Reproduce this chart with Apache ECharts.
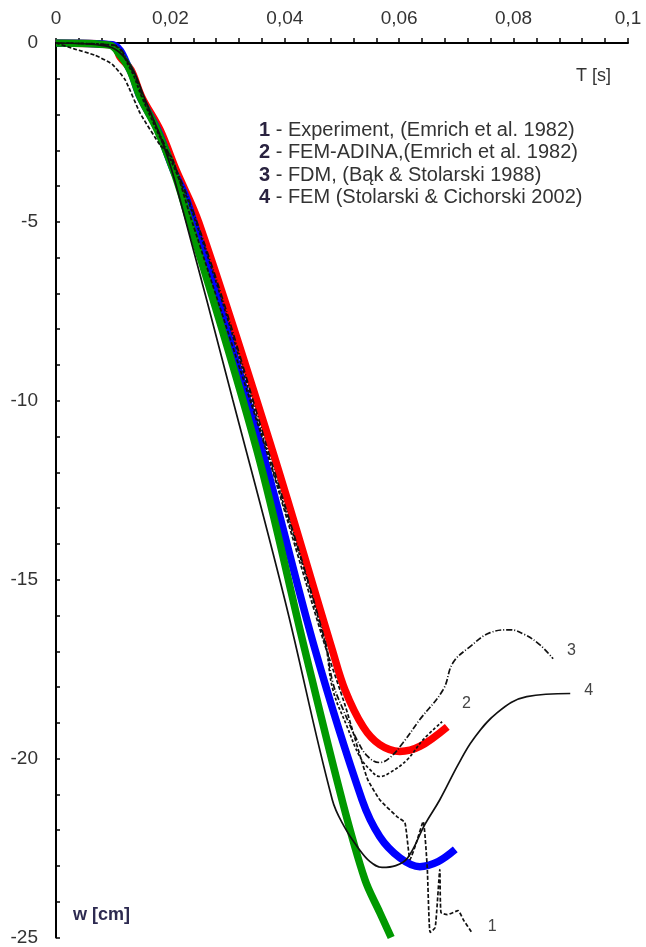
<!DOCTYPE html>
<html>
<head>
	<meta charset="utf-8">
	<title>w(T)</title>
	<script src="https://cdn.jsdelivr.net/npm/echarts@6/dist/echarts.min.js"></script>
	<style>
		body { margin: 0; background: #fff; }
		#box { width: 646px; height: 947px; }
	</style>
</head>
<body>
	<div id="box"></div>
	<script type="text/javascript">
		// [T (s), w (cm)]
		var redData = [[0, 0], [0.0100, -0.06], [0.0112, -0.39], [0.0131, -0.75], [0.0150, -1.51], [0.0182, -2.43],
			[0.0210, -3.55], [0.0250, -5.03], [0.0378, -11.37], [0.0483, -16.96], [0.0505, -18.07], [0.0537, -19.11],
			[0.0566, -19.61], [0.0601, -19.80], [0.0636, -19.66], [0.0684, -19.11]]
		var blueData = [[0, 0], [0.0098, -0.05], [0.0129, -0.75], [0.0147, -1.51], [0.0178, -2.43], [0.0205, -3.55],
			[0.0229, -4.39], [0.0360, -11.37], [0.0453, -16.96], [0.0535, -21.15], [0.0566, -22.18], [0.0601, -22.77],
			[0.0636, -23.02], [0.0668, -22.88], [0.0698, -22.54]]
		var greenData = [[0, 0], [0.0094, -0.06], [0.0112, -0.34], [0.0129, -0.75], [0.0147, -1.51], [0.0177, -2.43],
			[0.0205, -3.55], [0.0222, -4.39], [0.0351, -11.37], [0.0435, -16.96], [0.0500, -21.15], [0.0540, -23.38],
			[0.0566, -24.30], [0.0586, -25.0]]
		// 1 - experiment
		var curve1 = [[0, 0], [0.0033, -0.17], [0.0068, -0.34], [0.0098, -0.59], [0.0121, -1.03], [0.0147, -1.96],
			[0.0182, -2.85], [0.0203, -3.21], [0.0234, -4.80], [0.0371, -11.56], [0.0467, -16.68], [0.0505, -18.49],
			[0.0531, -19.89], [0.0545, -20.59], [0.0566, -21.15], [0.0596, -21.62], [0.0610, -21.79], [0.0619, -22.82],
			[0.0629, -22.40], [0.0642, -21.76], [0.0649, -23.04], [0.0654, -24.86], [0.0663, -24.72], [0.0671, -23.10],
			[0.0673, -24.30], [0.0684, -24.36], [0.0703, -24.25], [0.0712, -24.50], [0.0727, -24.86]]
		// 2 - FEM-ADINA
		var curve2 = [[0, 0], [0.0098, -0.06], [0.0129, -0.70], [0.0150, -1.51], [0.0243, -4.94], [0.0372, -11.56],
			[0.0469, -16.68], [0.0484, -18.07], [0.0509, -19.11], [0.0531, -19.94], [0.0549, -20.31], [0.0566, -20.50],
			[0.0584, -20.39], [0.0614, -20.03], [0.0642, -19.47], [0.0675, -18.97]]
		// 3 - FDM
		var curve3 = [[0, 0], [0.0100, -0.06], [0.0131, -0.70], [0.0152, -1.51], [0.0245, -4.94], [0.0374, -11.56],
			[0.0470, -16.68], [0.0484, -17.88], [0.0502, -18.63], [0.0526, -19.47], [0.0545, -19.94], [0.0566, -20.11],
			[0.0584, -19.97], [0.0607, -19.55], [0.0636, -18.91], [0.0677, -18.07], [0.0694, -17.32], [0.0724, -16.87],
			[0.0759, -16.48], [0.0794, -16.40], [0.0820, -16.54], [0.0846, -16.82], [0.0869, -17.21]]
		// 4 - FEM
		var curve4 = [[0, 0], [0.0086, -0.08], [0.0126, -0.53], [0.0156, -1.59], [0.0191, -2.99], [0.0217, -4.39],
			[0.0309, -9.97], [0.0400, -15.56], [0.0483, -21.15], [0.0505, -21.93], [0.0528, -22.49], [0.0549, -22.88],
			[0.0570, -23.04], [0.0594, -22.99], [0.0615, -22.77], [0.0645, -21.84], [0.0671, -21.15], [0.0703, -20.17],
			[0.0729, -19.47], [0.0771, -18.72], [0.0823, -18.27], [0.0899, -18.18]]

		var legendLines = [
			['1', ' - Experiment, (Emrich et al. 1982)'],
			['2', ' - FEM-ADINA,(Emrich et al. 1982)'],
			['3', ' - FDM, (Bąk & Stolarski 1988)'],
			['4', ' - FEM (Stolarski & Cichorski 2002)']
		]

		var font = 'Liberation Sans, Arial, sans-serif'
		var myChart = echarts.init(document.getElementById('box'))

		function thinLine(data, name, dash, endOffset, smooth) {
			return {
				type: 'line',
				name: name,
				data: data,
				z: 3,
				clip: true,
				smooth: smooth,
				symbol: 'none',
				lineStyle: { color: '#111', width: 1.7, type: dash },
				endLabel: {
					show: true,
					formatter: name,
					offset: endOffset,
					color: '#444',
					fontFamily: font,
					fontSize: 16
				}
			}
		}

		function thickLine(data, color) {
			return {
				type: 'line', data: data, symbol: 'none', clip: true, z: 2, smooth: 0.35,
				lineStyle: { color: color, width: 7.5 }
			}
		}

		var legendGraphic = legendLines.map(function (l, i) {
			return {
				type: 'text',
				left: 259,
				top: 120 + i * 22.5,
				style: {
					text: '{n|' + l[0] + '}{t|' + l[1] + '}',
					rich: {
						n: { fontFamily: font, fontSize: 20, fontWeight: 'bold', fill: '#2a2340' },
						t: { fontFamily: font, fontSize: 20, fill: '#333' }
					}
				}
			}
		})
		legendGraphic.push({
			type: 'text', left: 576, top: 67,
			style: { text: 'T [s]', fontFamily: font, fontSize: 18, fill: '#333' }
		})
		legendGraphic.push({
			type: 'text', left: 73, top: 906,
			style: { text: 'w [cm]', fontFamily: font, fontSize: 18, fontWeight: 'bold', fill: '#2d2a50' }
		})

		var option = {
			animation: false,
			backgroundColor: '#fff',
			grid: { left: 56, right: 18, top: 43, bottom: 9 },
			xAxis: {
				type: 'value',
				position: 'top',
				min: 0,
				max: 0.1,
				interval: 0.02,
				axisLine: { onZero: false, lineStyle: { color: '#000', width: 2 } },
				axisTick: { show: true, length: 5, lineStyle: { color: '#000', width: 1.5 } },
				minorTick: { show: true, splitNumber: 5, length: 5, lineStyle: { color: '#000', width: 1.5 } },
				splitLine: { show: false },
				axisLabel: {
					margin: 15,
					color: '#333',
					fontFamily: font,
					fontSize: 19,
					formatter: function (v) { return String(parseFloat(v.toFixed(3))).replace('.', ',') }
				}
			},
			yAxis: {
				type: 'value',
				min: -25,
				max: 0,
				interval: 5,
				axisLine: { onZero: false, lineStyle: { color: '#000', width: 2 } },
				axisTick: { show: true, inside: true, length: 4, lineStyle: { color: '#000', width: 1.5 } },
				minorTick: { show: true, splitNumber: 5, length: 4, lineStyle: { color: '#000', width: 1.5 } },
				splitLine: { show: false },
				axisLabel: { margin: 18, color: '#333', fontFamily: font, fontSize: 19 }
			},
			graphic: legendGraphic,
			series: [
				thickLine(redData, '#ff0000'),
				thickLine(blueData, '#0000ff'),
				thickLine(greenData, '#009900'),
				thinLine(curve1, '1', [4, 2], [8, -6], 0.15),
				thinLine(curve2, '2', [3, 2], [12, -18], 0.4),
				thinLine(curve3, '3', [6, 2, 1, 2], [6, -8], 0.4),
				thinLine(curve4, '4', 'solid', [6, -3], 0.4)
			]
		}

		myChart.setOption(option)
	</script>
</body>
</html>
